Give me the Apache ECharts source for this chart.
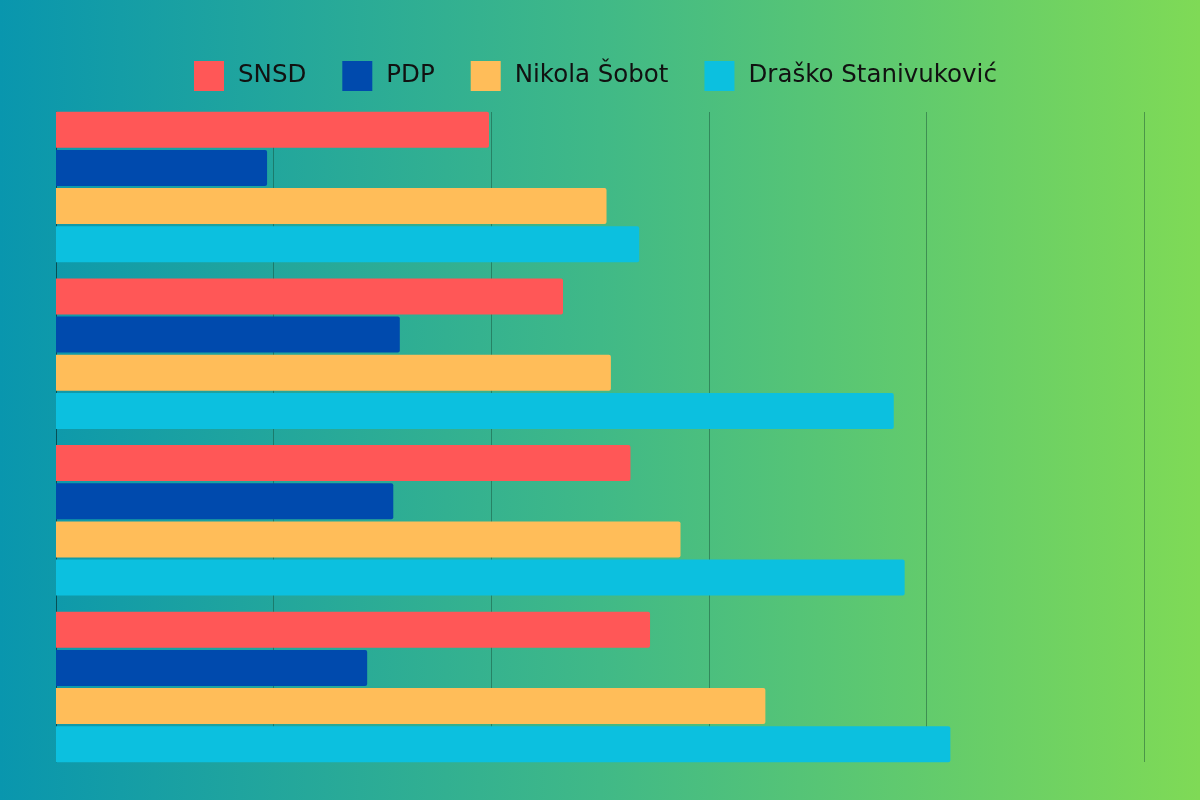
<!DOCTYPE html>
<html>
<head>
<meta charset="utf-8">
<script src="https://cdn.jsdelivr.net/npm/echarts@6/dist/echarts.min.js"></script>
<style>
html,body{margin:0;padding:0;}
#main{width:1200px;height:800px;}
</style>
</head>
<body>
<div id="main"></div>
<script>
const categories = ['Anketa 1', 'Anketa 2', 'Anketa 3', 'Anketa 4'];
const seriesNames = ['SNSD', 'PDP', 'Nikola Šobot', 'Draško Stanivuković'];
const snsd = [19.9, 23.3, 26.4, 27.3];
const pdp = [9.7, 15.8, 15.5, 14.3];
const sobot = [25.3, 25.5, 28.7, 32.6];
const stanivukovic = [26.8, 38.5, 39.0, 41.1];
const colors = ['#ff5757', '#004aad', '#ffbd59', '#0cc0df'];
const axisMax = 50;
const axisStep = 10;

const values = [snsd, pdp, sobot, stanivukovic];
const chart = echarts.init(document.getElementById('main'));
chart.setOption({
  backgroundColor: {
    type: 'linear', x: 0, y: 0, x2: 1, y2: 0,
    colorStops: [
      {offset: 0, color: '#0996ae'},
      {offset: 0.5, color: '#40b987'},
      {offset: 1, color: '#7fda56'}
    ]
  },
  animation: false,
  legend: {
    top: 56,
    left: 189,
    itemWidth: 30,
    itemHeight: 30,
    itemGap: 36,
    icon: 'rect',
    data: seriesNames,
    textStyle: {
      fontFamily: 'DejaVu Sans',
      fontSize: 24.5,
      color: '#111111',
      padding: [3, 0, 0, 9]
    }
  },
  grid: [
    {left: 56, right: 56, top: 103.67, bottom: 29.67, containLabel: false},
    {left: 56, right: 56, top: 112, bottom: 38, containLabel: false}
  ],
  xAxis: [
    {gridIndex: 0, type: 'value', min: 0, max: axisMax, interval: axisStep,
     axisLabel: {show: false}, axisLine: {show: false}, axisTick: {show: false},
     splitLine: {show: false}},
    {gridIndex: 1, type: 'value', min: 0, max: axisMax, interval: axisStep,
     axisLabel: {show: false}, axisLine: {show: false}, axisTick: {show: false},
     splitLine: {show: true, lineStyle: {color: 'rgba(20,70,50,0.45)', width: 1}}}
  ],
  yAxis: [
    {gridIndex: 0, type: 'category', data: categories, inverse: true,
     axisLabel: {show: false}, axisLine: {show: false}, axisTick: {show: false}},
    {gridIndex: 1, type: 'category', data: categories, inverse: true,
     axisLabel: {show: false}, axisTick: {show: false},
     axisLine: {show: true, lineStyle: {color: 'rgba(0,50,60,0.55)', width: 1}}}
  ],
  series: seriesNames.map((name, i) => ({
    name: name,
    type: 'bar',
    xAxisIndex: 0,
    yAxisIndex: 0,
    data: values[i],
    barWidth: 36,
    barGap: '6%',
    itemStyle: {color: colors[i], borderRadius: [0, 2, 2, 0]},
    z: 3
  }))
});
</script>
</body>
</html>
